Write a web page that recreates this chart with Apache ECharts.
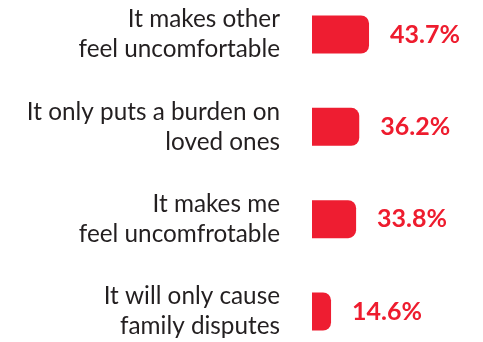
<!DOCTYPE html>
<html>
<head>
<meta charset="utf-8">
<style>
  html, body { margin: 0; padding: 0; background: #ffffff; }
  #chart { width: 483px; height: 342px; }
</style>
<script src="https://cdn.jsdelivr.net/npm/echarts@6/dist/echarts.min.js"></script>
</head>
<body>
<div id="chart"></div>
<script>
// Reasons given, top to bottom
const categories = [
  'It makes other\nfeel uncomfortable',
  'It only puts a burden on\nloved ones',
  'It makes me\nfeel uncomfrotable',
  'It will only cause\nfamily disputes'
];
// Share of respondents (%)
const shares = [43.7, 36.2, 33.8, 14.6];

// Top padding of each category label (px); the upper two sit a little lower
const labelTopPad = [9, 8, 1, 1];

const chart = echarts.init(document.getElementById('chart'), null, { renderer: 'canvas' });

chart.setOption({
  animation: false,
  grid: { left: 312, top: 29.5, width: 130.5, height: 283.5, containLabel: false },
  xAxis: {
    type: 'value',
    min: 0,
    max: 100,
    show: false
  },
  yAxis: {
    type: 'category',
    data: categories.map((c, i) => ({
      value: c,
      textStyle: { padding: [labelTopPad[i], 0, 0, 0] }
    })),
    inverse: true,
    boundaryGap: false,
    axisLine: { show: false },
    axisTick: { show: false },
    splitLine: { show: false },
    axisLabel: {
      margin: 32,
      align: 'right',
      fontFamily: 'Lato',
      fontSize: 24.3,
      lineHeight: 30,
      color: '#231f20'
    }
  },
  series: [{
    type: 'bar',
    data: shares,
    barWidth: 38,
    itemStyle: {
      color: '#ee1d31',
      borderRadius: [0, 8, 8, 0]
    },
    label: {
      show: true,
      position: 'right',
      distance: 21,
      formatter: '{c}%',
      fontFamily: 'Lato',
      fontWeight: 'bold',
      fontSize: 25,
      color: '#ee1c2e'
    }
  }]
});
</script>
</body>
</html>
